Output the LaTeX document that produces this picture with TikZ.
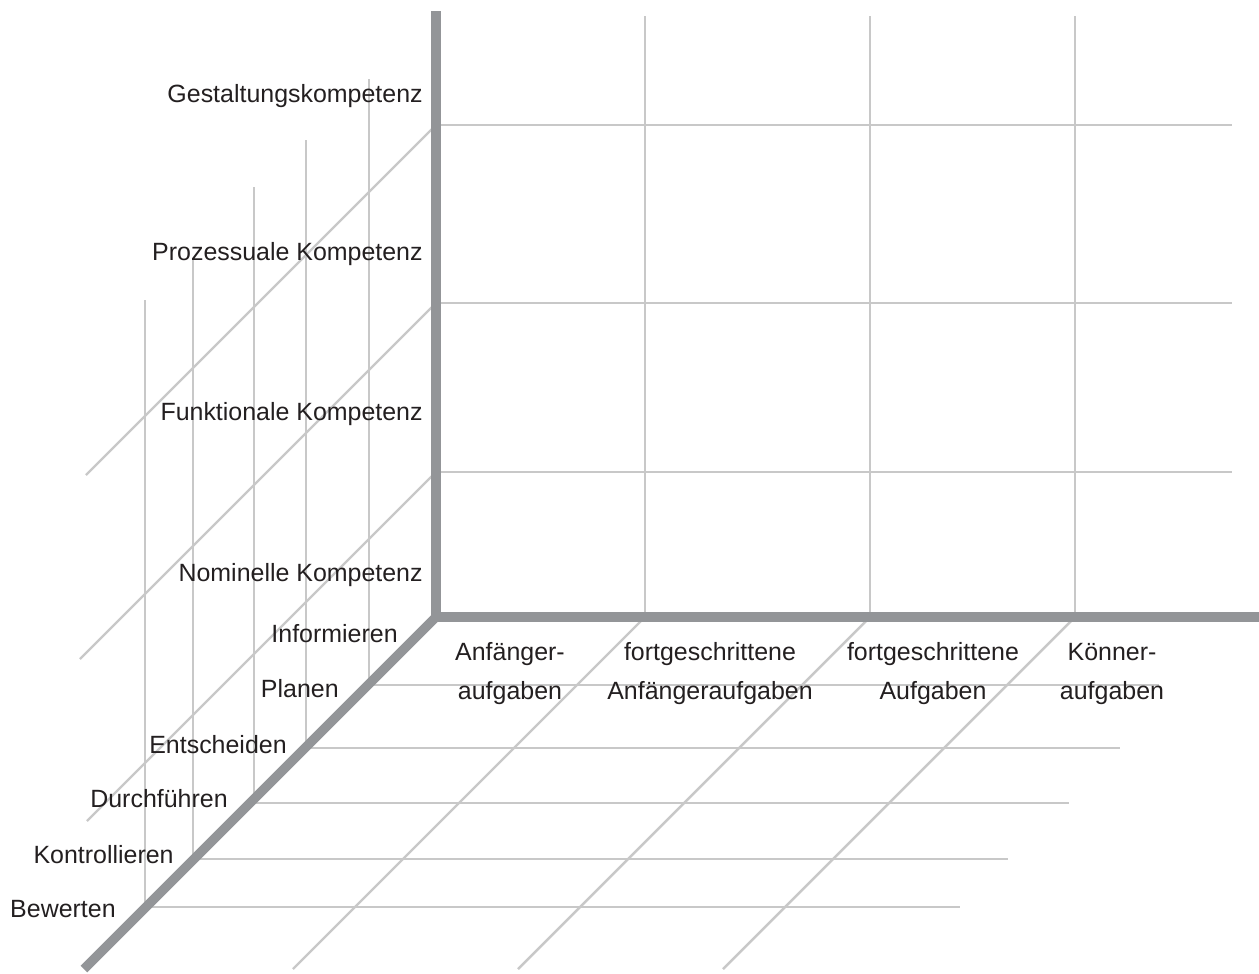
\documentclass[tikz,border=0pt]{standalone}
\usepackage{fontspec}
\setmainfont{Liberation Sans}
\definecolor{kaxis}{HTML}{939598}
\definecolor{kgrid}{HTML}{C8C8C8}
\definecolor{ktext}{HTML}{231F20}
\usetikzlibrary{positioning}

\begin{document}
\begin{tikzpicture}[x=0.02cm,y=-0.02cm,
  font=\fontsize{14.2}{22}\selectfont, text=ktext,
  axisline/.style={draw=kaxis,line width=5.4pt},
  gridline/.style={draw=kgrid,line width=1.4pt},
  rowlbl/.style={inner sep=0pt,anchor=base east},
  collbl/.style={inner sep=0pt,align=center,anchor=base}]
\useasboundingbox (0,0) rectangle (1259,974);
\coordinate (o) at (436,617);
\coordinate (ztop) at (436,11);
\coordinate (xend) at (1259,617);
\coordinate (yend) at (84,969);
% back wall
\foreach \y in {125,303,472}
  \draw[gridline] (436,\y) -- (1232,\y);
\foreach \x in {645,870,1075}
  \draw[gridline] (\x,16) -- (\x,617);
% side wall
\foreach \y/\d in {125/350,303/356,472/349}
  \draw[gridline] (436,\y) -- ++(-\d,\d);
% floor
\foreach \x in {645,870,1075}
  \draw[gridline] (\x,617) -- ++(-352,352);
\foreach \x/\y/\t/\e in {369/685/79/1159,306/748/140/1120,254/803/187/1069,193/859/258/1008,145/907/300/960}{
  \draw[gridline] (\x,\y) -- (\e,\y);
  \draw[gridline] (\x,\y) -- (\x,\t);
}
% axes
\draw[axisline] (xend) -- (o) -- (ztop);
\draw[axisline] (o) -- (yend);
% labels
\node[rowlbl] (gest) at (423,102) {Gestaltungskompetenz};
\node[rowlbl] (proz) at (423,260) {Prozessuale Kompetenz};
\node[rowlbl] (funk) at (423,420) {Funktionale Kompetenz};
\node[rowlbl] (nomi) at (423,581) {Nominelle Kompetenz};
\node[rowlbl] (info) at (398,642) {Informieren};
\node[rowlbl] (plan) at (339,697) {Planen};
\node[rowlbl] (ents) at (287,753) {Entscheiden};
\node[rowlbl] (durc) at (228,807) {Durchführen};
\node[rowlbl] (kont) at (174,863) {Kontrollieren};
\node[rowlbl] (bewe) at (116,917) {Bewerten};
\node[collbl] (anf) at (510,699) {Anfänger-\\aufgaben};
\node[collbl] (fanf) at (710,699) {fortgeschrittene\\Anfängeraufgaben};
\node[collbl] (fauf) at (933,699) {fortgeschrittene\\Aufgaben};
\node[collbl] (konn) at (1112,699) {Könner-\\aufgaben};
\end{tikzpicture}
\end{document}
